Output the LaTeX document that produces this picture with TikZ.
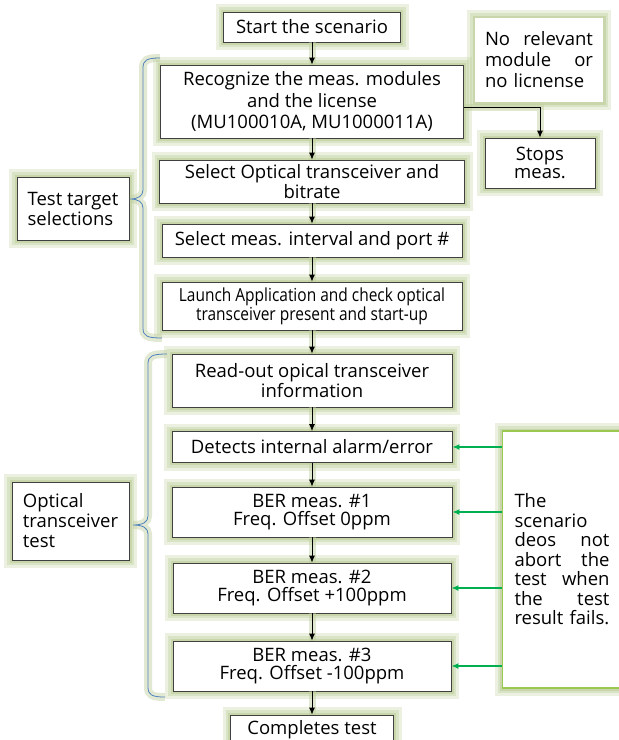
\documentclass[tikz,border=0pt]{standalone}
\usepackage{fontspec}
\setmainfont{Open Sans}
\newfontfamily\narrowfont{Open Sans}[FakeStretch=0.86]
\usetikzlibrary{arrows.meta}

\definecolor{glowc}{RGB}{190,206,155}
\definecolor{boxline}{RGB}{64,64,64}
\definecolor{bracec}{RGB}{79,129,189}
\definecolor{notec}{RGB}{155,200,80}
\definecolor{garrc}{RGB}{0,176,80}

\newcommand\boxfont{\fontsize{18.5}{17.5}\selectfont}
\newcommand\tightfont{\narrowfont\fontsize{18}{17}\selectfont}

\tikzset{
  glow/.style={preaction={draw=glowc,line width=16pt,opacity=.3},
               preaction={draw=glowc,line width=10pt,opacity=.4},
               preaction={draw=glowc,line width=5pt,opacity=.6}},
  stepbox/.style={glow,draw=boxline,fill=white,line width=0.8pt,inner sep=2pt,
                  align=center,font=\boxfont},
  size/.style 2 args={minimum width=#1,minimum height=#2},
  labelbox/.style={stepbox,align=left,inner xsep=9pt,font=\fontsize{18.5}{20}\selectfont},
  arr/.style={-{Latex[length=7pt,width=6pt]},line width=0.9pt,
              preaction={draw=glowc,line width=7pt,opacity=.45,-}},
  garr/.style={-{Latex[length=7pt,width=6pt]},line width=1.6pt,draw=garrc},
  brace/.style={draw=bracec,line width=0.8pt,
                preaction={draw=glowc,line width=8pt,opacity=.45}}
}

\begin{document}
\begin{tikzpicture}[x=1pt,y=-1pt]
  \useasboundingbox (0,0) rectangle (619,740);

  % main column
  \node (start)   [stepbox, size={177}{30}] at (312,27) {Start the scenario};
  \node (recog)   [stepbox, size={303}{73}, font=\fontsize{18.5}{21.5}\selectfont] at (312,101.5)
        {Recognize the meas. modules\\and the license\\(MU100010A, MU1000011A)};
  \node (sel1)    [stepbox, size={305}{43}] at (312,181.5)
        {Select Optical transceiver and\\bitrate};
  \node (sel2)    [stepbox, size={300}{33}] at (312,240.5) {Select meas. interval and port \#};
  \node (launch)  [stepbox, size={300}{48}, font=\tightfont] at (312,306)
        {Launch Application and check optical\\transceiver present and start-up};
  \node (readout) [stepbox, size={280}{53}] at (312,380.5)
        {Read-out opical transceiver\\information};
  \node (detect)  [stepbox, size={280}{31}] at (312,447) {Detects internal alarm/error};
  \node (ber1)    [stepbox, size={280}{50}] at (312,512) {BER meas. \#1\\Freq. Offset 0ppm};
  \node (ber2)    [stepbox, size={278}{50}] at (312,588) {BER meas. \#2\\Freq. Offset +100ppm};
  \node (ber3)    [stepbox, size={278}{50}] at (312,666) {BER meas. \#3\\Freq. Offset -100ppm};
  \node (done)    [stepbox, size={163}{30}] at (312,730) {Completes test};

  % side notes
  \node (norel) [glow, fill=white, font=\fontsize{18.5}{21}\selectfont, align=left,
                 text width=108pt, inner xsep=10pt, size={128}{84}] at (539,60)
        {No\hfill relevant\\module\hfill or\\no licnense};
  \node (stops) [stepbox, size={110}{50}] at (540,163) {Stops\\meas.};
  \node (note)  [glow, draw=notec, line width=1.5pt, fill=white,
                 font=\fontsize{18.5}{19.5}\selectfont, align=left, text width=95pt,
                 inner xsep=12pt, size={119}{257}] at (562,559.5)
        {The\\scenario\\deos\hfill not\\abort\hfill the\\test\hfill when\\the\hfill test\\result fails.};

  % group labels
  \node (tts) [labelbox, size={112}{63}] at (73,208.5) {Test target\\selections};
  \node (ott) [labelbox, size={117}{78}] at (70.5,521) {Optical\\transceiver\\test};

  % braces
  \draw[brace] (160,58) .. controls (147,58) and (143,60) .. (143,68) -- (143,190)
        .. controls (143,196) and (138,199) .. (130,199)
        .. controls (138,199) and (143,202) .. (143,208) -- (143,328)
        .. controls (143,336) and (147,338) .. (162,338);
  \draw[brace] (167,354) .. controls (152,354) and (148,356) .. (148,364) -- (148,516)
        .. controls (148,522) and (143,525) .. (133,525)
        .. controls (143,525) and (148,528) .. (148,534) -- (148,687)
        .. controls (148,695) and (152,697) .. (165,697);

  % flow
  \foreach \a/\b in {start/recog, recog/sel1, sel1/sel2, sel2/launch, launch/readout,
                     readout/detect, detect/ber1, ber1/ber2, ber2/ber3, ber3/done}
    \draw[arr] (\a.south) -- (\b.north);
  \draw[arr] ([yshift=-5.5pt]recog.east) -| (stops.north);
  \foreach \b in {detect, ber1, ber2, ber3}
    \draw[garr] (note.west |- \b) -- (\b.east);
\end{tikzpicture}
\end{document}
